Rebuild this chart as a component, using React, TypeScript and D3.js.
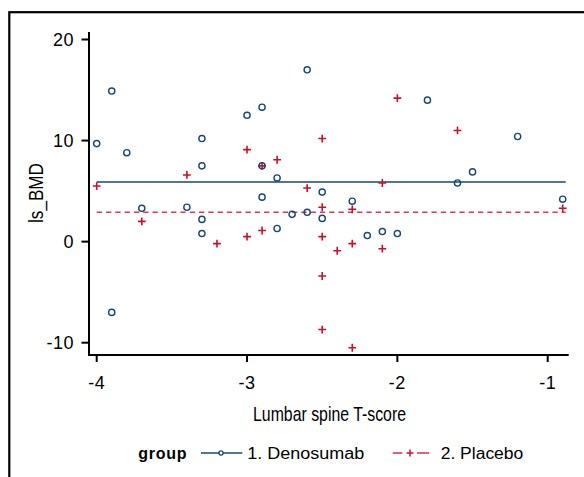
import React from "react";
import * as d3 from "d3";

// Denosumab group (hollow circles)
const denoX = [-4.0, -3.9, -3.9, -3.8, -3.7, -3.4, -3.3, -3.3, -3.3, -3.3, -3.0, -2.9, -2.9, -2.9, -2.8, -2.8, -2.7, -2.6, -2.6, -2.5, -2.5, -2.3, -2.2, -2.1, -2.0, -1.8, -1.6, -1.5, -1.2, -0.9];
const denoY = [9.7, 14.9, -7.0, 8.8, 3.3, 3.4, 10.2, 7.5, 2.2, 0.8, 12.5, 13.3, 7.5, 4.4, 6.3, 1.3, 2.7, 17.0, 2.9, 4.9, 2.3, 4.0, 0.6, 1.0, 0.8, 14.0, 5.8, 6.9, 10.4, 4.2];

// Placebo group (plus markers)
const placX = [-4.0, -3.7, -3.4, -3.2, -3.0, -3.0, -2.9, -2.9, -2.8, -2.6, -2.5, -2.5, -2.5, -2.5, -2.5, -2.4, -2.3, -2.3, -2.3, -2.1, -2.1, -2.0, -1.6, -0.9];
const placY = [5.5, 2.0, 6.6, -0.2, 9.1, 0.5, 7.5, 1.1, 8.1, 5.3, 10.2, 3.4, 0.5, -3.4, -8.7, -0.9, 3.2, -0.2, -10.5, 5.8, -0.7, 14.2, 11.0, 3.3];

// group means (horizontal reference lines)
const groupMeans = [5.9, 2.9];
const groupLabels = ["1. Denosumab", "2. Placebo"];

const xTicks = [-4, -3, -2, -1];
const yTicks = [-10, 0, 10, 20];

const BLUE = "#1a476f";
const RED = "#c8102e";
const RED_LINE = "#d23c5a";
const FONT = "'Liberation Sans', Arial, Helvetica, sans-serif";

export default function App() {
  const x = d3.scaleLinear().domain([-4, -1]).range([96.7, 547.7]);
  const y = d3.scaleLinear().domain([-10, 20]).range([342.7, 39.5]);

  const plotLeft = 89;
  const plotRight = 568.7;
  const plotTop = 32;
  const plotBottom = 355;

  const denoExt = d3.extent(denoX) as [number, number];
  const placExt = d3.extent(placX) as [number, number];

  const pr = 3.9;

  return (
    <svg
      width={584}
      height={477}
      style={{ position: "absolute", left: 0, top: 0, background: "#fff" }}
      fontFamily={FONT}
    >
      <rect x={0} y={0} width={584} height={477} fill="#fff" />
      {/* outer frame */}
      <rect x={9.3} y={12.2} width={700} height={600} fill="none" stroke="#000" strokeWidth={2.2} />

      {/* mean lines */}
      <line x1={x(denoExt[0])} x2={x(denoExt[1]) + 3} y1={y(groupMeans[0])} y2={y(groupMeans[0])} stroke={BLUE} strokeWidth={1.3} />
      <line x1={x(placExt[0])} x2={x(placExt[1]) + 3} y1={y(groupMeans[1])} y2={y(groupMeans[1])} stroke={RED_LINE} strokeWidth={1.6} strokeDasharray="5.3,4" />

      {/* placebo pluses */}
      {placX.map((v, i) => (
        <path
          key={"p" + i}
          d={`M${x(v) - pr},${y(placY[i])}H${x(v) + pr}M${x(v)},${y(placY[i]) - pr}V${y(placY[i]) + pr}`}
          stroke={RED}
          strokeWidth={1.6}
          fill="none"
        />
      ))}
      {/* denosumab circles */}
      {denoX.map((v, i) => (
        <circle key={"d" + i} cx={x(v)} cy={y(denoY[i])} r={3.1} fill="none" stroke={BLUE} strokeWidth={1.4} />
      ))}

      {/* y axis */}
      <line x1={plotLeft} x2={plotLeft} y1={plotTop} y2={plotBottom + 1} stroke="#000" strokeWidth={2} />
      {yTicks.map((t) => (
        <g key={"yt" + t}>
          <line x1={plotLeft - 7.5} x2={plotLeft} y1={y(t)} y2={y(t)} stroke="#000" strokeWidth={2} />
          <text x={74} y={y(t) + 6.3} textAnchor="end" fontSize={18} letterSpacing={0.5}>
            {t}
          </text>
        </g>
      ))}

      {/* x axis */}
      <line x1={plotLeft - 1} x2={plotRight} y1={plotBottom} y2={plotBottom} stroke="#000" strokeWidth={2} />
      {xTicks.map((t) => (
        <g key={"xt" + t}>
          <line x1={x(t)} x2={x(t)} y1={plotBottom} y2={plotBottom + 7} stroke="#000" strokeWidth={2} />
          <text x={x(t)} y={389} textAnchor="middle" fontSize={18} letterSpacing={0.5}>
            {t}
          </text>
        </g>
      ))}

      {/* axis titles */}
      <text x={329.5} y={421} textAnchor="middle" fontSize={21} textLength={153} lengthAdjust="spacingAndGlyphs">
        Lumbar spine T-score
      </text>
      <text
        transform="translate(43,193) rotate(-90)"
        textAnchor="middle"
        fontSize={20}
        textLength={60}
        lengthAdjust="spacingAndGlyphs"
      >
        ls_BMD
      </text>

      {/* legend */}
      <text x={138.3} y={459} fontSize={16} fontWeight="bold" letterSpacing={0.7}>
        group
      </text>
      <line x1={201} x2={242.3} y1={453} y2={453} stroke={BLUE} strokeWidth={1.3} />
      <circle cx={221} cy={453} r={2.1} fill="#fff" stroke={BLUE} strokeWidth={1.3} />
      <text x={247.3} y={459} fontSize={16} textLength={117} lengthAdjust="spacingAndGlyphs">
        {groupLabels[0]}
      </text>
      <line x1={392.7} x2={402.3} y1={453} y2={453} stroke={RED_LINE} strokeWidth={1.6} />
      <line x1={417} x2={429.3} y1={453} y2={453} stroke={RED_LINE} strokeWidth={1.6} />
      <path d={`M${410 - 3.5},453H${410 + 3.5}M410,${453 - 3.5}V${453 + 3.5}`} stroke={RED} strokeWidth={1.5} />
      <text x={440.7} y={459} fontSize={16} textLength={82.6} lengthAdjust="spacingAndGlyphs">
        {groupLabels[1]}
      </text>
    </svg>
  );
}
